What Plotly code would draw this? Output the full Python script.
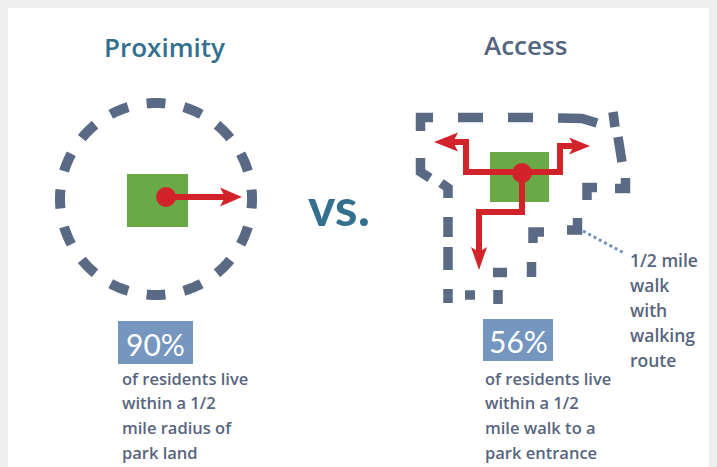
import numpy as np
import plotly.graph_objects as go

# ---- data ----
titles = ["Proximity", "Access"]
percent_values = [90, 56]
descriptions = [
    ["of residents live", "within a 1/2", "mile radius of", "park land"],
    ["of residents live", "within a 1/2", "mile walk to a", "park entrance"],
]
callout_lines = ["1/2 mile", "walk", "with", "walking", "route"]
vs_label = "vs."

W, H = 717, 467
OFF = 8  # page body margin: data coords == window pixel coords
SLATE = "#5A6A84"
TEXT = "#58657E"
TEAL = "#33708F"
RED = "#D2232A"
GREEN = "#6AAA46"
BOXBLUE = "#7496BF"
BODY_FONT = "Open Sans"

fig = go.Figure()
shapes = []
annotations = []


def poly_path(pts, close=False):
    s = "M " + " L ".join(f"{x:.2f},{y:.2f}" for x, y in pts)
    return s + (" Z" if close else "")


def arrow_head(tip, d, L, w, notch):
    tx, ty = tip
    dx, dy = d
    px, py = -dy, dx
    bx, by = tx - L * dx, ty - L * dy
    nx, ny = tx - (L - notch) * dx, ty - (L - notch) * dy
    pts = [(tx, ty), (bx + w * px, by + w * py), (nx, ny), (bx - w * px, by - w * py)]
    return dict(type="path", path=poly_path(pts, True), fillcolor=RED, line_width=0)


# ---- Proximity: dashed circle ----
cx, cy, r = 156, 199, 96
n_dash = 16
cycle = 2 * np.pi * r / n_dash
half = cycle / 2
a0 = -(half / 2) / r
ang = a0 + np.linspace(0, 2 * np.pi, 400)
circ = list(zip(cx + r * np.cos(ang), cy + r * np.sin(ang)))
shapes.append(dict(type="path", path=poly_path(circ), line=dict(color=SLATE, width=10, dash=f"{half:.2f}px,{half:.2f}px")))

shapes.append(dict(type="rect", x0=127, x1=188, y0=174, y1=227, fillcolor=GREEN, line_width=0))
shapes.append(dict(type="path", path=poly_path([(166, 197), (226, 197)]), line=dict(color=RED, width=6)))
shapes.append(arrow_head((242, 197), (1, 0), 22, 9.5, 5))
shapes.append(dict(type="circle", x0=156, x1=176, y0=187, y1=207, fillcolor=RED, line_width=0))

# ---- Access: hand-drawn dashed walking boundary (individual dash pieces) ----
dash_pieces = [
    [(420.5, 131), (420.5, 117.5), (433, 117.5)],
    [(458, 117.5), (483, 117.5)],
    [(508, 117.5), (533, 117.5)],
    [(558, 118), (582, 118.5), (597, 123)],
    [(613, 112), (615, 127)],
    [(618, 137), (622, 162)],
    [(625.5, 178), (625.5, 188.5), (615, 188.5)],
    [(597, 187.5), (587, 187.5), (587, 200)],
    [(577.5, 218), (577.5, 230), (567, 230)],
    [(544, 232), (533, 232), (533, 243)],
    [(531.5, 262), (531.5, 277)],
    [(493, 272.5), (507, 272.5)],
    [(498, 290), (498, 304)],
    [(465, 295), (475, 295)],
    [(448, 289), (448, 303)],
    [(448, 247), (448, 270)],
    [(448, 217), (448, 237)],
    [(441, 183), (448, 188), (448, 198)],
    [(420.5, 158), (420.5, 172), (430, 178)],
]
for p in dash_pieces:
    shapes.append(dict(type="path", path=poly_path(p), line=dict(color=SLATE, width=9.5)))

shapes.append(dict(type="rect", x0=490, x1=549, y0=152, y1=202, fillcolor=GREEN, line_width=0))
branches = [
    [(522, 172), (466, 172), (466, 142), (452, 142)],
    [(522, 172), (560, 172), (560, 146), (574, 146)],
    [(522, 172), (522, 212), (479, 212), (479, 252)],
]
for b in branches:
    shapes.append(dict(type="path", path=poly_path(b), line=dict(color=RED, width=6)))
shapes.append(arrow_head((434, 142), (-1, 0), 24, 9.5, 5))
shapes.append(arrow_head((590, 146), (1, 0), 21, 8.5, 5))
shapes.append(arrow_head((479, 270), (0, 1), 23, 8, 5))
shapes.append(dict(type="circle", x0=512, x1=532, y0=163, y1=183, fillcolor=RED, line_width=0))

# dotted leader line
shapes.append(dict(type="path", path=poly_path([(583, 231), (624, 253)]), line=dict(color="#7193BC", width=3, dash="dot")))

# ---- titles ----
title_pos = [(164, 47, TEAL), (525, 45, "#56657F")]
for t, (x, y, c) in zip(titles, title_pos):
    annotations.append(dict(x=x, y=y, text=t, showarrow=False, xanchor="center", yanchor="middle",
                            font=dict(family=BODY_FONT, size=26, color=c, weight=600)))

annotations.append(dict(x=339, y=206, text=vs_label, showarrow=False, xanchor="center", yanchor="middle",
                        font=dict(family="Lato", size=52, color=TEAL, weight="bold")))

# ---- percent boxes & descriptions ----
boxes = [(118, 193, 321, 364), (483, 553, 319, 361)]
text_left = [120, 483]
for v, (x0, x1, y0, y1), desc, tl in zip(percent_values, boxes, descriptions, text_left):
    shapes.append(dict(type="rect", x0=x0, x1=x1, y0=y0, y1=y1, fillcolor=BOXBLUE, line_width=0))
    annotations.append(dict(x=(x0 + x1) / 2, y=(y0 + y1) / 2 + 1, text=f"{v}%", showarrow=False,
                            xanchor="center", yanchor="middle",
                            font=dict(family="Lato", size=30, color="white")))
    for i, line in enumerate(desc):
        annotations.append(dict(x=tl, y=378 + 24.7 * i, text=line, showarrow=False,
                                xanchor="left", yanchor="middle",
                                font=dict(family=BODY_FONT, size=16.5, color=TEXT, weight=600)))

for i, line in enumerate(callout_lines):
    annotations.append(dict(x=628, y=260 + 25 * i, text=line, showarrow=False,
                            xanchor="left", yanchor="middle",
                            font=dict(family=BODY_FONT, size=17.5, color=TEXT, weight=600)))

fig.update_layout(
    width=W, height=H, margin=dict(l=0, r=0, t=0, b=0),
    paper_bgcolor="white", plot_bgcolor="white",
    xaxis=dict(range=[OFF, W + OFF], visible=False, fixedrange=True),
    yaxis=dict(range=[H + OFF, OFF], visible=False, fixedrange=True),
    shapes=shapes, annotations=annotations, showlegend=False,
)
fig.write_html("out.html", config={"displayModeBar": False},
               post_script="document.body.style.background='#EEEEEE';")
